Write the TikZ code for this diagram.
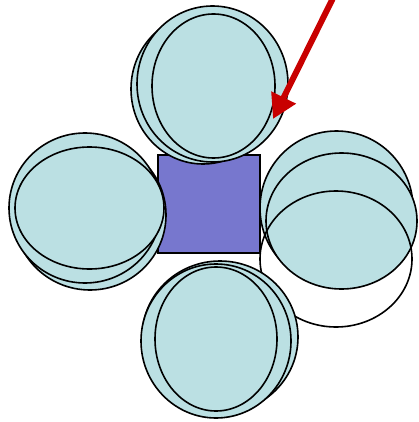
\documentclass[tikz,border=0pt]{standalone}
\usepackage{xcolor}
\usepackage{tikz}
\usetikzlibrary{arrows.meta}

\definecolor{cellfill}{RGB}{187,224,227}
\definecolor{corefill}{RGB}{119,119,206}
\definecolor{pointred}{RGB}{200,0,0}

\begin{document}
\begin{tikzpicture}[x=1pt, y=-1pt,
  cell/.style={draw=black, fill=cellfill, line width=1.6pt},
  ghost/.style={draw=black, line width=1.6pt},
  core/.style={draw=black, fill=corefill, line width=1.3pt},
  pointer/.style={-{Triangle[length=24pt, width=26pt]}, line width=6pt, draw=pointred}
]
  \useasboundingbox (0,0) rectangle (418,422);

  % centre square
  \draw[core] (158,155) rectangle (260,253);

  % top group
  \draw[cell] (203,89) ellipse [x radius=72pt, y radius=75pt];
  \draw[cell] (212.5,84) ellipse [x radius=75.5pt, y radius=78pt];
  \draw[cell] (213.5,86) ellipse [x radius=61.5pt, y radius=72pt];

  % left group
  \draw[cell] (90,215) ellipse [x radius=76pt, y radius=75pt];
  \draw[cell] (85,208) ellipse [x radius=76pt, y radius=75pt];
  \draw[cell] (89.5,208) ellipse [x radius=74.5pt, y radius=61pt];

  % right group
  \draw[cell] (336.5,208) ellipse [x radius=76.5pt, y radius=77pt];
  \draw[cell] (341.5,221) ellipse [x radius=75.5pt, y radius=68pt];
  \draw[ghost] (336,259) ellipse [x radius=76pt, y radius=68pt];

  % bottom group
  \draw[cell] (220,337) ellipse [x radius=78pt, y radius=76pt];
  \draw[cell] (216,341) ellipse [x radius=75pt, y radius=77pt];
  \draw[cell] (216,339) ellipse [x radius=61pt, y radius=72pt];

  % pointer
  \coordinate (tail) at (334,-4);
  \coordinate (tip) at (273,119);
  \draw[pointer] (tail) -- (tip);
\end{tikzpicture}
\end{document}
